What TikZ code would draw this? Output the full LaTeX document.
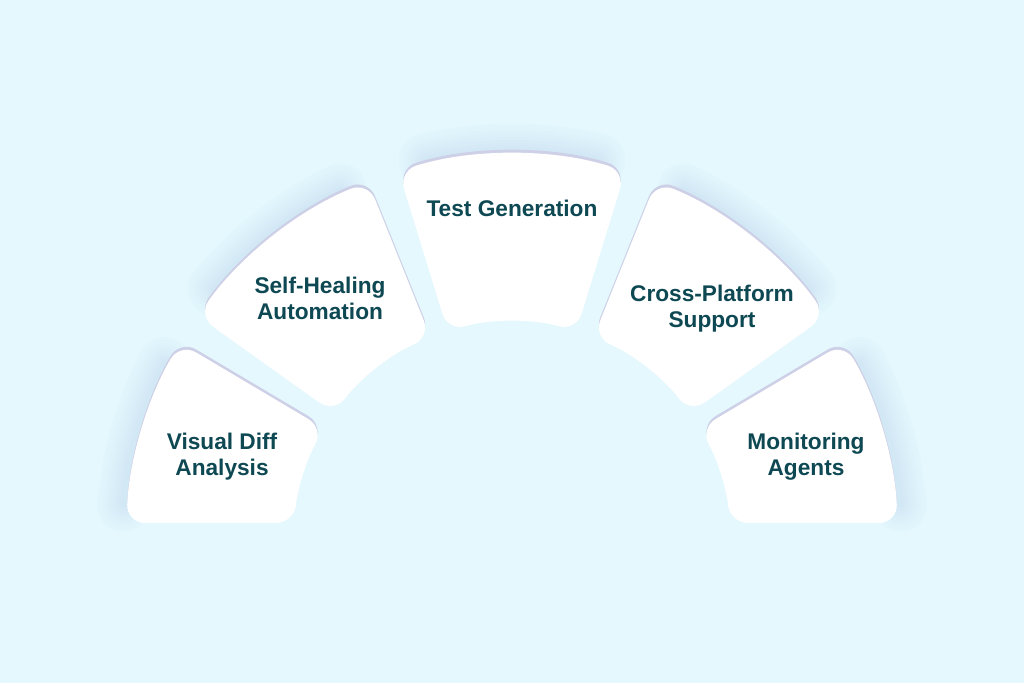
\documentclass[tikz,border=0pt]{standalone}
\usepackage{fontspec}
\setmainfont{Liberation Sans}
\usetikzlibrary{calc}
\definecolor{bg}{HTML}{E4F8FD}
\definecolor{ink}{HTML}{0D4853}
\definecolor{glow}{HTML}{A9C2E4}
\definecolor{rim}{HTML}{CDD0E6}
\newcommand\segpathx[4]{(#1:\R) arc[start angle=#1,end angle=#2,radius=\R] -- (#3:\r) arc[start angle=#3,end angle=#4,radius=\r] -- cycle}
\newcommand\outerarc[2]{(#1:\R) arc[start angle=#1,end angle=#2,radius=\R]}
\begin{document}
\begin{tikzpicture}[x=0.75pt,y=0.75pt,
  label/.style={font=\bfseries\fontsize{17}{19.5}\selectfont, text=ink, align=center},
  segfill/.style={fill=white, rounded corners=14pt},
  segrim/.style={fill=rim, rounded corners=14pt},
  seglow/.style={draw=glow, opacity=0.035, line cap=round}]
\fill[bg] (0,0) rectangle (1024,683);
\useasboundingbox (0,0) rectangle (1024,683);
\def\R{386}\def\r{218}
\begin{scope}[shift={(512,143)}]
  % glow layers along the outer arcs
  \foreach \i in {1,...,8}{
    \path[seglow, line width=\i*5pt, shift={(163:4)}] \outerarc{153}{175};
    \path[seglow, line width=\i*5pt, shift={(128:4)}] \outerarc{116}{140};
    \path[seglow, line width=\i*5pt, shift={(90:4)}] \outerarc{77}{103};
    \path[seglow, line width=\i*5pt, shift={(52:4)}] \outerarc{40}{64};
    \path[seglow, line width=\i*5pt, shift={(17:4)}] \outerarc{5}{27};
  }
  % rims
  \begin{scope}[shift={(0,3)}]
    \path[segrim] \segpathx{149.3}{177.48}{175.53}{149.3};
    \path[segrim] \segpathx{111.9}{144.5}{144.5}{111.9};
    \path[segrim] \segpathx{72.9}{107.1}{107.1}{72.9};
    \path[segrim] \segpathx{35.5}{68.1}{68.1}{35.5};
    \path[segrim] \segpathx{2.52}{30.7}{30.7}{4.47};
  \end{scope}
  % white segments
  \path[segfill] \segpathx{149.3}{177.48}{175.53}{149.3};
  \path[segfill] \segpathx{111.9}{144.5}{144.5}{111.9};
  \path[segfill] \segpathx{72.9}{107.1}{107.1}{72.9};
  \path[segfill] \segpathx{35.5}{68.1}{68.1}{35.5};
  \path[segfill] \segpathx{2.52}{30.7}{30.7}{4.47};
\end{scope}
\node[label] (vd) at (222,226) {Visual Diff\\Analysis};
\node[label] (sh) at (320,385) {Self-Healing\\Automation};
\node[label] (tg) at (512,475) {Test Generation};
\node[label] (cp) at (712,374) {Cross-Platform\\Support};
\node[label] (ma) at (806,226) {Monitoring\\Agents};
\end{tikzpicture}
\end{document}
